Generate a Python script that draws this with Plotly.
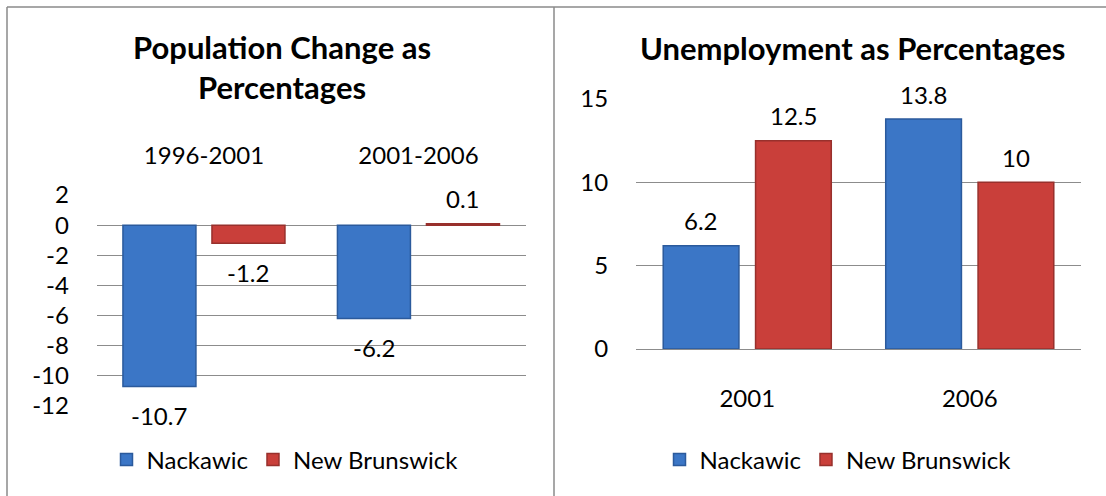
import plotly.graph_objects as go

# ---- data ----
periods = ["1996-2001", "2001-2006"]
pop_nackawic = [-10.7, -6.2]
pop_new_brunswick = [-1.2, 0.1]
pop_ticks = [2, 0, -2, -4, -6, -8, -10, -12]

years = ["2001", "2006"]
unemp_nackawic = [6.2, 13.8]
unemp_new_brunswick = [12.5, 10]
unemp_ticks = [0, 5, 10, 15]

series_names = ["Nackawic", "New Brunswick"]
series_fill = ["#3b76c6", "#c93f3a"]
series_edge = ["#2b5a9c", "#98302c"]

W, H = 1106, 496
FONT = "Lato"
BARGAP = 0.17
BARGROUPGAP = 0.18
GRID = "#8c8c8c"
TEXT_SIZE = 24


def px_x(p):
    return p / W


def px_y(p):
    return 1 - p / H


fig = go.Figure()

panels = [
    dict(cats=periods, vals=[pop_nackawic, pop_new_brunswick], xa="x", ya="y", legend="legend"),
    dict(cats=years, vals=[unemp_nackawic, unemp_new_brunswick], xa="x2", ya="y2", legend="legend2"),
]

text_font = dict(family=FONT, size=TEXT_SIZE, color="#000000")

annotations = []
for panel in panels:
    xs = list(range(len(panel["cats"])))
    n = len(panel["vals"])
    slot = (1 - BARGAP) / n
    for k, vals in enumerate(panel["vals"]):
        fig.add_trace(go.Bar(
            x=xs, y=vals, name=series_names[k],
            marker=dict(color=series_fill[k], line=dict(color=series_edge[k], width=1.5)),
            xaxis=panel["xa"], yaxis=panel["ya"], legend=panel["legend"],
            hoverinfo="skip",
        ))
        # value labels sit a fixed distance beyond the bar end
        for i, v in enumerate(vals):
            annotations.append(dict(
                x=i + (k - (n - 1) / 2) * slot, y=v,
                xref=panel["xa"], yref=panel["ya"],
                xanchor="center", yanchor="middle",
                text=f"{v:g}", showarrow=False,
                yshift=25 if v >= 0 else -29,
                font=text_font,
            ))

hidden_tick = dict(ticks="outside", tickcolor="rgba(0,0,0,0)", tickfont=text_font)

fig.update_layout(
    width=W, height=H,
    margin=dict(l=0, r=0, t=0, b=0, autoexpand=False),
    paper_bgcolor="white", plot_bgcolor="white",
    barmode="group", bargap=BARGAP, bargroupgap=BARGROUPGAP,
    showlegend=True,
    xaxis=dict(
        domain=[px_x(96.7), px_x(525.7)], anchor="y", side="top",
        tickvals=[0, 1], ticktext=periods, range=[-0.5, 1.5], ticklen=20,
        showgrid=False, showline=False, zeroline=False, **hidden_tick,
    ),
    yaxis=dict(
        domain=[px_y(406), px_y(195)], anchor="x",
        range=[-12, 2], tickvals=pop_ticks, ticktext=[str(t) for t in pop_ticks],
        showgrid=True, gridcolor=GRID, gridwidth=1,
        zeroline=True, zerolinecolor=GRID, zerolinewidth=1,
        showline=False, ticklen=22, **hidden_tick,
    ),
    xaxis2=dict(
        domain=[px_x(636), px_x(1081)], anchor="y2",
        tickvals=[0, 1], ticktext=years, range=[-0.5, 1.5], ticklen=28,
        showgrid=False, showline=False, zeroline=False, **hidden_tick,
    ),
    yaxis2=dict(
        domain=[px_y(349), px_y(99)], anchor="x2",
        range=[0, 15], tickvals=unemp_ticks, ticktext=[str(t) for t in unemp_ticks],
        showgrid=True, gridcolor=GRID, gridwidth=1,
        zeroline=True, zerolinecolor=GRID, zerolinewidth=1,
        showline=False, ticklen=22, **hidden_tick,
    ),
    legend=dict(
        orientation="h", x=px_x(285), xanchor="center", y=px_y(460), yanchor="middle",
        font=text_font, bgcolor="rgba(0,0,0,0)",
        itemclick=False, itemdoubleclick=False,
    ),
    legend2=dict(
        orientation="h", x=px_x(838), xanchor="center", y=px_y(460), yanchor="middle",
        font=text_font, bgcolor="rgba(0,0,0,0)",
        itemclick=False, itemdoubleclick=False,
    ),
)

# chart titles
title_font = dict(family=FONT, size=31, color="#000000")
annotations.append(dict(
    x=px_x(282), y=px_y(67), xref="paper", yref="paper",
    xanchor="center", yanchor="middle", align="center",
    text="<b>Population Change as<br>Percentages</b>", showarrow=False,
    font=title_font,
))
annotations.append(dict(
    x=px_x(852), y=px_y(48), xref="paper", yref="paper",
    xanchor="center", yanchor="middle",
    text="<b>Unemployment as Percentages</b>", showarrow=False,
    font=title_font,
))
fig.update_layout(annotations=annotations)

# frame around the two chart cells
border = dict(color="#8a8a8a", width=1.5)
fig.update_layout(shapes=[
    dict(type="line", xref="paper", yref="paper", x0=px_x(7), x1=1, y0=px_y(7), y1=px_y(7), line=border),
    dict(type="line", xref="paper", yref="paper", x0=px_x(7), x1=px_x(7), y0=0, y1=px_y(7), line=border),
    dict(type="line", xref="paper", yref="paper", x0=px_x(554), x1=px_x(554), y0=0, y1=px_y(7), line=border),
])

fig.write_html("out.html")
